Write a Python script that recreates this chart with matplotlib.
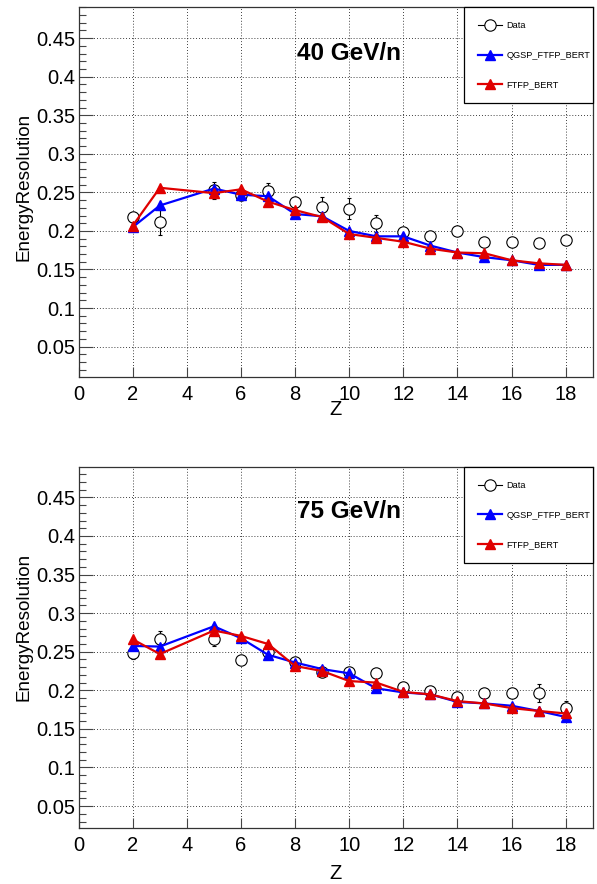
import matplotlib
matplotlib.use("Agg")
import numpy as np
import matplotlib.pyplot as plt
from matplotlib.lines import Line2D
from matplotlib.ticker import MultipleLocator

plt.rcParams['font.family'] = ['Liberation Sans', 'DejaVu Sans']

# ---- data ----
z_vals = [2, 3, 5, 6, 7, 8, 9, 10, 11, 12, 13, 14, 15, 16, 17, 18]

data_40 = [0.218, 0.211, 0.253, 0.247, 0.252, 0.237, 0.231, 0.229,
           0.210, 0.199, 0.193, 0.200, 0.186, 0.186, 0.184, 0.188]
err_40 = [0.006, 0.016, 0.011, 0.005, 0.010, 0.006, 0.013, 0.0135,
          0.011, 0.005, 0.004, 0.005, 0.004, 0.005, 0.004, 0.005]
qgsp_40 = [0.205, 0.233, 0.255, 0.247, 0.245, 0.222, 0.219, 0.200,
           0.193, 0.193, 0.181, 0.172, 0.166, 0.162, 0.156, 0.156]
ftfp_40 = [0.207, 0.256, 0.249, 0.254, 0.238, 0.227, 0.218, 0.196,
           0.191, 0.186, 0.177, 0.172, 0.171, 0.162, 0.158, 0.156]

data_75 = [0.248, 0.266, 0.266, 0.239, 0.250, 0.237, 0.224, 0.224,
           0.223, 0.2045, 0.199, 0.1915, 0.197, 0.196, 0.1967, 0.1773]
err_75 = [0.007, 0.011, 0.0085, 0.005, 0.005, 0.004, 0.004, 0.005,
          0.005, 0.004, 0.004, 0.005, 0.004, 0.005, 0.012, 0.009]
qgsp_75 = [0.2575, 0.2567, 0.283, 0.2675, 0.246, 0.236, 0.2275, 0.222,
           0.2025, 0.1973, 0.1947, 0.185, 0.183, 0.180, 0.1733, 0.1655]
ftfp_75 = [0.266, 0.247, 0.2775, 0.2705, 0.260, 0.2315, 0.225, 0.212,
           0.210, 0.198, 0.1947, 0.186, 0.183, 0.177, 0.1733, 0.170]

y_ticks = [0.05, 0.1, 0.15, 0.2, 0.25, 0.3, 0.35, 0.4, 0.45]
y_tick_labels = ['0.05', '0.1', '0.15', '0.2', '0.25', '0.3', '0.35', '0.4', '0.45']
x_ticks = [0, 2, 4, 6, 8, 10, 12, 14, 16, 18]

BLUE = '#0000ff'
RED = '#e00000'
TICK_FS = 14.5

fig = plt.figure(figsize=(5.97, 8.84), dpi=100)
ax_top = fig.add_axes([0.1318, 0.5739, 0.861, 0.4178])
ax_bot = fig.add_axes([0.1318, 0.0637, 0.861, 0.4077])


def draw_panel(ax, data, err, qgsp, ftfp, title, ylim, leg_h):
    ax.errorbar(z_vals, data, yerr=err, fmt='o', ms=8.2, mfc='white', mec='black',
                mew=0.8, ecolor='black', elinewidth=0.8, capsize=1.5, capthick=0.8,
                zorder=3)
    ax.plot(z_vals, qgsp, color=BLUE, lw=1.6, marker='^', ms=7.5, zorder=4)
    ax.plot(z_vals, ftfp, color=RED, lw=1.6, marker='^', ms=7.5, zorder=5)

    ax.set_xlim(0, 19)
    ax.set_ylim(*ylim)
    ax.set_xticks(x_ticks)
    ax.set_xticklabels([str(t) for t in x_ticks])
    ax.set_yticks(y_ticks)
    ax.set_yticklabels(y_tick_labels)
    ax.yaxis.set_minor_locator(MultipleLocator(0.01))
    ax.tick_params(axis='both', which='both', direction='in', labelsize=TICK_FS,
                   color='#444444', width=0.8)
    ax.tick_params(axis='x', which='major', length=7, pad=6)
    ax.tick_params(axis='y', which='major', length=10, pad=2.7)
    ax.tick_params(axis='y', which='minor', length=5)
    ax.grid(True, which='major', color='black', linestyle=(0, (1, 2.5)), linewidth=0.6)
    for sp in ax.spines.values():
        sp.set_color('#333333')
        sp.set_linewidth(0.9)

    ax.text(0.424, 0.876, title, transform=ax.transAxes, fontsize=17.5,
            fontweight='bold', ha='left', va='center', zorder=6)

    handles = [
        Line2D([], [], color='black', lw=0.8, marker='o', ms=8.2, mfc='white',
               mec='black', mew=0.8),
        Line2D([], [], color=BLUE, lw=1.6, marker='^', ms=7.5),
        Line2D([], [], color=RED, lw=1.6, marker='^', ms=7.5),
    ]
    leg = ax.legend(handles, ['Data', 'QGSP_FTFP_BERT', 'FTFP_BERT'],
                    loc='upper left', bbox_to_anchor=(0.7496, 1 - leg_h, 0.2504, leg_h),
                    mode='expand', borderaxespad=0, fontsize=6.6, labelspacing=2.25,
                    borderpad=1.5, handlelength=2.6, handletextpad=0.5,
                    fancybox=False, framealpha=1, edgecolor='black')
    leg.get_frame().set_linewidth(0.9)
    leg.set_zorder(7)


draw_panel(ax_top, data_40, err_40, qgsp_40, ftfp_40, '40 GeV/n', (0.011, 0.49), 0.248)
draw_panel(ax_bot, data_75, err_75, qgsp_75, ftfp_75, '75 GeV/n', (0.022, 0.489), 0.254)

fig.text(0.041, 0.789, 'EnergyResolution', rotation=90, fontsize=13.6,
         ha='center', va='center')
fig.text(0.041, 0.2913, 'EnergyResolution', rotation=90, fontsize=13.6,
         ha='center', va='center')
fig.text(0.5623, 0.5362, 'Z', fontsize=14.5, ha='center', va='center')
fig.text(0.5623, 0.0124, 'Z', fontsize=14.5, ha='center', va='center')

fig.savefig('out.png', dpi=100)
